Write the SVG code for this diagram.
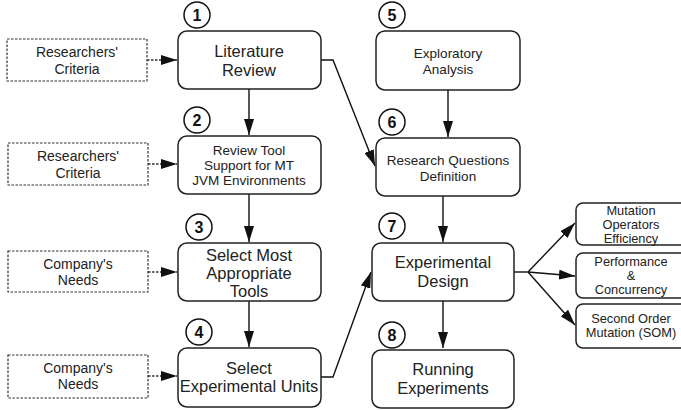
<svg xmlns="http://www.w3.org/2000/svg" width="681" height="410" viewBox="0 0 681 410">
<defs>
<marker id="ahb" viewBox="0 0 16 10" refX="16" refY="5" markerWidth="16" markerHeight="10" markerUnits="userSpaceOnUse" orient="auto"><path d="M0,0 L16,5 L0,10 Z" fill="#111"/></marker>
</defs>
<style>
.box{fill:#fff;stroke:#222;stroke-width:1.5}
.dbox{fill:#fff;stroke:#333;stroke-width:1.2;stroke-dasharray:2.5,1.5}
.num{fill:#fff;stroke:#111;stroke-width:1.5}
text{font-family:"Liberation Sans",Arial,sans-serif;fill:#222;text-anchor:middle}
.big{font-size:16.5px}
.mid{font-size:13.5px}
.sm{font-size:12.8px}
.ds{font-size:14px}
.n{font-size:16px;font-weight:bold;fill:#111}
.c{fill:none;stroke:#111;stroke-width:1.4}
.d{fill:none;stroke:#333;stroke-width:1.3;stroke-dasharray:2.5,1.5}
</style>
<g id="connectors">
<line class="d" x1="147" y1="60" x2="177" y2="60" marker-end="url(#ahb)"/>
<line class="d" x1="148" y1="164" x2="177" y2="164" marker-end="url(#ahb)"/>
<line class="d" x1="148" y1="272" x2="177" y2="272" marker-end="url(#ahb)"/>
<line class="d" x1="148" y1="376" x2="177" y2="376" marker-end="url(#ahb)"/>
<line class="c" x1="249" y1="89" x2="249" y2="135" marker-end="url(#ahb)"/>
<line class="c" x1="249" y1="194" x2="249" y2="242" marker-end="url(#ahb)"/>
<line class="c" x1="249" y1="301" x2="249" y2="347" marker-end="url(#ahb)"/>
<line class="c" x1="448" y1="90" x2="448" y2="137" marker-end="url(#ahb)"/>
<line class="c" x1="443" y1="196" x2="443" y2="242" marker-end="url(#ahb)"/>
<line class="c" x1="443" y1="301" x2="443" y2="348" marker-end="url(#ahb)"/>
<polyline class="c" points="321,60 333,60 375,166" marker-end="url(#ahb)"/>
<polyline class="c" points="321,377 333,377 371,272" marker-end="url(#ahb)"/>
<line class="c" x1="514" y1="272" x2="528" y2="272"/>
<line class="c" x1="528" y1="272" x2="575" y2="223" marker-end="url(#ahb)"/>
<line class="c" x1="528" y1="272" x2="575" y2="276" marker-end="url(#ahb)"/>
<line class="c" x1="528" y1="272" x2="575" y2="325" marker-end="url(#ahb)"/>
</g>
<g id="crit1"><rect class="dbox" x="7" y="39" width="140" height="42"/><text class="ds" x="77" y="57">Researchers'</text><text class="ds" x="77" y="74">Criteria</text></g>
<g id="crit2"><rect class="dbox" x="8" y="143" width="140" height="42"/><text class="ds" x="78" y="161">Researchers'</text><text class="ds" x="78" y="178">Criteria</text></g>
<g id="needs1"><rect class="dbox" x="8" y="251" width="140" height="41"/><text class="ds" x="78" y="269">Company's</text><text class="ds" x="78" y="285">Needs</text></g>
<g id="needs2"><rect class="dbox" x="8" y="355" width="140" height="43"/><text class="ds" x="78" y="373">Company's</text><text class="ds" x="78" y="389">Needs</text></g>
<g id="n1"><circle class="num" cx="197" cy="15" r="13"/><text class="n" x="197" y="21">1</text>
<rect class="box" x="178" y="31" width="143" height="58" rx="9"/><text class="big" x="249" y="57">Literature</text><text class="big" x="249" y="76">Review</text></g>
<g id="n2"><circle class="num" cx="197" cy="120" r="13"/><text class="n" x="197" y="126">2</text>
<rect class="box" x="178" y="136" width="143" height="58" rx="9"/><text class="mid" x="249" y="155">Review Tool</text><text class="mid" x="249" y="170">Support for MT</text><text class="mid" x="249" y="185">JVM Environments</text></g>
<g id="n3"><circle class="num" cx="199" cy="227" r="13"/><text class="n" x="199" y="233">3</text>
<rect class="box" x="178" y="243" width="143" height="58" rx="9"/><text class="big" x="249" y="261">Select Most</text><text class="big" x="249" y="279">Appropriate</text><text class="big" x="249" y="297">Tools</text></g>
<g id="n4"><circle class="num" cx="199" cy="332" r="13"/><text class="n" x="199" y="338">4</text>
<rect class="box" x="178" y="348" width="143" height="59" rx="9"/><text class="big" x="249" y="374">Select</text><text class="big" x="249" y="392">Experimental Units</text></g>
<g id="n5"><circle class="num" cx="392" cy="15" r="13"/><text class="n" x="392" y="21">5</text>
<rect class="box" x="376" y="31" width="144" height="59" rx="9"/><text class="mid" x="448" y="58">Exploratory</text><text class="mid" x="448" y="74">Analysis</text></g>
<g id="n6"><circle class="num" cx="392" cy="122" r="13"/><text class="n" x="392" y="128">6</text>
<rect class="box" x="376" y="138" width="144" height="58" rx="9"/><text class="mid" x="448" y="165">Research Questions</text><text class="mid" x="448" y="181">Definition</text></g>
<g id="n7"><circle class="num" cx="392" cy="226" r="13"/><text class="n" x="392" y="232">7</text>
<rect class="box" x="372" y="243" width="142" height="58" rx="9"/><text class="big" x="443" y="268">Experimental</text><text class="big" x="443" y="287">Design</text></g>
<g id="n8"><circle class="num" cx="392" cy="335" r="13"/><text class="n" x="392" y="341">8</text>
<rect class="box" x="372" y="350" width="142" height="58" rx="9"/><text class="big" x="443" y="375">Running</text><text class="big" x="443" y="394">Experiments</text></g>
<g id="m1"><rect class="box" x="576" y="203" width="112" height="42" rx="7"/><text class="sm" x="631" y="215">Mutation</text><text class="sm" x="631" y="229">Operators</text><text class="sm" x="631" y="243">Efficiency</text></g>
<g id="m2"><rect class="box" x="576" y="253" width="112" height="45" rx="7"/><text class="sm" x="631" y="266">Performance</text><text class="sm" x="631" y="280">&amp;</text><text class="sm" x="631" y="294">Concurrency</text></g>
<g id="m3"><rect class="box" x="576" y="304" width="112" height="44" rx="7"/><text class="sm" x="631" y="323">Second Order</text><text class="sm" x="631" y="337">Mutation (SOM)</text></g>
</svg>
